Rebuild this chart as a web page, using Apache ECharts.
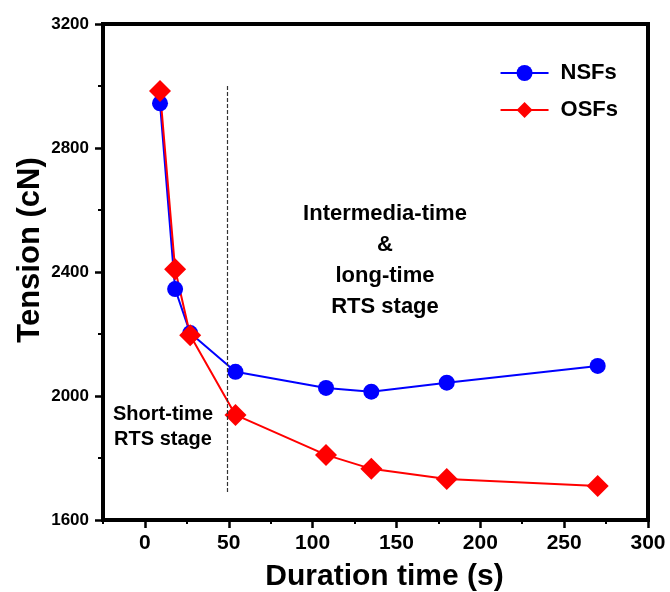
<!DOCTYPE html>
<html>
<head>
<meta charset="utf-8">
<script src="https://cdn.jsdelivr.net/npm/echarts@6/dist/echarts.min.js"></script>
<style>
  html, body { margin: 0; padding: 0; background: #fff; }
  #chart { width: 670px; height: 592px; }
</style>
</head>
<body>
<div id="chart"></div>
<script>
// durations (s)
var durations = [9, 18, 27, 54, 108, 135, 180, 270];
// tension values (cN)
var nsfs = [2944, 2345, 2203, 2078, 2026, 2014, 2043, 2097];
var osfs = [2984, 2409, 2196, 1939, 1810, 1765, 1732, 1710];
// x axis ticks
var xMajor = [0, 50, 100, 150, 200, 250, 300];
var xMinor = [-25, 25, 75, 125, 175, 225, 275];
// stage divider
var dividerX = 49;
var dividerRange = [1690, 3000];

function pairs(xs, ys) {
  var out = [];
  for (var i = 0; i < xs.length; i++) out.push([xs[i], ys[i]]);
  return out;
}

var font = '"Liberation Sans", Arial, sans-serif';
var myChart = echarts.init(document.getElementById('chart'));

var option = {
  animation: false,
  textStyle: { fontFamily: font },
  grid: {
    left: 103, top: 24, right: 22, bottom: 72,
    outerBoundsMode: 'none',
    show: true, borderColor: '#000', borderWidth: 4
  },
  legend: {
    orient: 'vertical',
    right: 47, top: 57,
    itemWidth: 48, itemHeight: 20, itemGap: 15,
    textStyle: { fontSize: 22, fontWeight: 'bold', color: '#000', fontFamily: font, padding: [0, 0, 0, 7] },
    data: ['NSFs', 'OSFs']
  },
  xAxis: [
    {
      type: 'value',
      min: -25, max: 300,
      name: 'Duration time (s)',
      nameLocation: 'middle',
      nameGap: 42,
      nameTextStyle: { fontSize: 30, fontWeight: 'bold', color: '#000', fontFamily: font, padding: [0, 0, 0, 18] },
      axisLine: { onZero: false, lineStyle: { color: '#000', width: 4 } },
      axisTick: { customValues: xMajor, length: 8, lineStyle: { width: 2.5, color: '#000' } },
      axisLabel: { customValues: xMajor, fontSize: 21, fontWeight: 'bold', color: '#000', margin: 13 },
      splitLine: { show: false }
    },
    {
      type: 'value',
      min: -25, max: 300,
      position: 'bottom',
      axisLine: { show: false },
      axisTick: { show: true, customValues: xMinor, length: 4, lineStyle: { width: 2, color: '#000' } },
      axisLabel: { show: false },
      splitLine: { show: false }
    }
  ],
  yAxis: {
    type: 'value',
    min: 1600, max: 3200,
    interval: 400,
    name: 'Tension (cN)',
    nameLocation: 'middle',
    nameGap: 57,
    nameMoveOverlap: false,
    nameTextStyle: { fontSize: 31, fontWeight: 'bold', color: '#000', fontFamily: font, padding: [0, 0, 0, 44] },
    axisLine: { show: true, onZero: false, lineStyle: { color: '#000', width: 4 } },
    axisTick: { show: true, length: 8, lineStyle: { width: 2.5, color: '#000' } },
    minorTick: { show: true, splitNumber: 2, length: 5, lineStyle: { width: 2, color: '#000' } },
    axisLabel: { fontSize: 17, fontWeight: 'bold', color: '#000', margin: 14, formatter: function (v) { return String(v); } },
    splitLine: { show: false }
  },
  series: [
    {
      name: 'NSFs',
      type: 'line',
      data: pairs(durations, nsfs),
      symbol: 'circle',
      symbolSize: 16,
      color: '#0000ff',
      lineStyle: { width: 2, color: '#0000ff' },
      itemStyle: { color: '#0000ff' },
      markLine: {
        silent: true,
        symbol: 'none',
        label: { show: false },
        lineStyle: { color: '#333', type: [4, 2], width: 1.2 },
        data: [[
          { coord: [dividerX, dividerRange[0]] },
          { coord: [dividerX, dividerRange[1]] }
        ]]
      }
    },
    {
      name: 'OSFs',
      type: 'line',
      data: pairs(durations, osfs),
      symbol: 'diamond',
      symbolSize: 22,
      color: '#ff0000',
      lineStyle: { width: 2, color: '#ff0000' },
      itemStyle: { color: '#ff0000' }
    }
  ],
  graphic: [
    {
      type: 'text',
      x: 385, y: 198,
      style: {
        text: 'Intermedia-time\n&\nlong-time\nRTS stage',
        font: 'bold 22px ' + font,
        fill: '#000',
        align: 'center',
        lineHeight: 31
      }
    },
    {
      type: 'text',
      x: 163, y: 402,
      style: {
        text: 'Short-time\nRTS stage',
        font: 'bold 20px ' + font,
        fill: '#000',
        align: 'center',
        lineHeight: 25
      }
    }
  ]
};

myChart.setOption(option);
</script>
</body>
</html>
